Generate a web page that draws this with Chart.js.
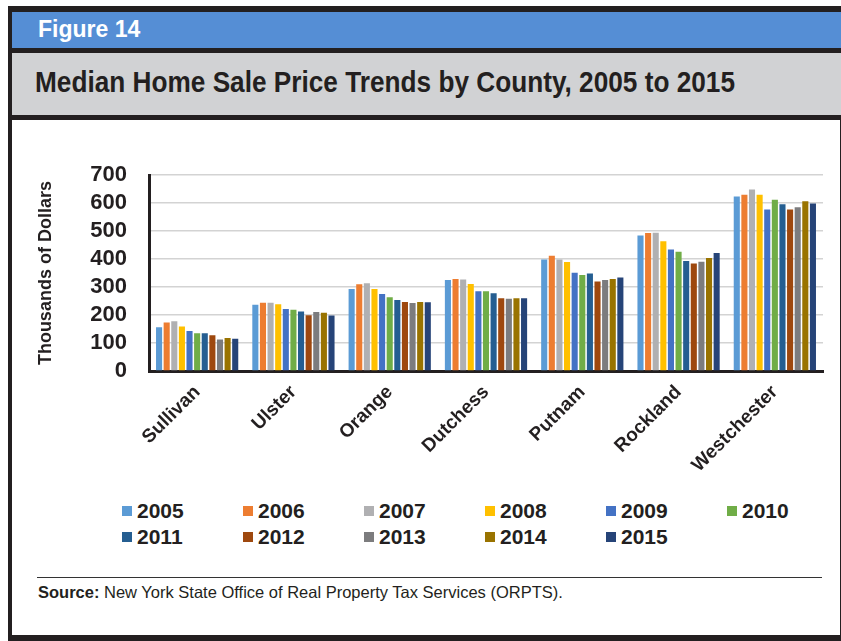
<!DOCTYPE html>
<html>
<head>
<meta charset="utf-8">
<script src="https://cdn.jsdelivr.net/npm/chart.js@4.4.1/dist/chart.umd.min.js"></script>
<style>
  body { margin:0; width:841px; height:641px; overflow:hidden; background:#fff; font-family:"Liberation Sans", Arial, sans-serif; }
  .frame { position:absolute; left:8px; top:6px; width:833px; height:635px; background:#231f20; }
  .band-blue { position:absolute; left:12px; top:12px; width:829px; height:36px; background:#558ed5; }
  .band-gray { position:absolute; left:12px; top:53px; width:829px; height:62px; background:#d1d2d4; }
  .panel { position:absolute; left:12px; top:120px; width:828px; height:515px; background:#fff; }
  .fig { position:absolute; left:38px; top:16px; color:#fff; font-weight:bold; font-size:23px; font-family:"Liberation Sans Narrow", "Liberation Sans", Arial, sans-serif; }
  .title { position:absolute; left:35px; top:65px; color:#231f20; font-weight:bold; font-size:30px; font-family:"Liberation Sans Narrow", "Liberation Sans", Arial, sans-serif; white-space:nowrap; }
  #wrap { position:absolute; left:20px; top:140px; width:815px; height:350px; }
  #legend { position:absolute; left:0; top:0; }
  .item { position:absolute; display:flex; align-items:center; font-weight:bold; font-size:21px; color:#231f20; }
  .item span.sw { width:10px; height:10px; margin-right:5px; display:inline-block; }
  .rule { position:absolute; left:37px; top:577px; width:785px; height:0; border-top:1.5px solid #333; }
  .src { position:absolute; left:38px; top:583px; font-size:16.5px; color:#231f20; }
</style>
</head>
<body>
<div class="frame"></div>
<div class="band-blue"></div>
<div class="band-gray"></div>
<div class="panel"></div>
<div class="fig">Figure 14</div>
<div class="title" id="title">Median Home Sale Price Trends by County, 2005 to 2015</div>
<div id="wrap"><canvas id="chart"></canvas></div>
<div id="legend"></div>
<div class="rule"></div>
<div class="src"><b>Source:</b> New York State Office of Real Property Tax Services (ORPTS).</div>
<script>
// data (thousands of dollars)
const counties = ['Sullivan', 'Ulster', 'Orange', 'Dutchess', 'Putnam', 'Rockland', 'Westchester'];
const years = ['2005','2006','2007','2008','2009','2010','2011','2012','2013','2014','2015'];
const colors = ['#5b9bd5','#ed7d31','#b0b0b2','#ffc000','#4472c4','#70ad47','#255e91','#9e480e','#7c7c7e','#997300','#264478'];

const sullivan    = [156, 173, 178, 159, 143, 135, 135, 128, 113, 118, 115];
const ulster      = [237, 244, 244, 239, 222, 219, 213, 199, 211, 208, 198];
const orange      = [293, 310, 314, 293, 275, 264, 254, 247, 243, 247, 246];
const dutchess    = [325, 329, 327, 311, 285, 285, 278, 260, 258, 260, 260];
const putnam      = [399, 412, 399, 390, 351, 343, 349, 320, 325, 329, 334];
const rockland    = [484, 493, 494, 464, 434, 426, 393, 384, 391, 404, 422];
const westchester = [624, 630, 649, 630, 577, 612, 596, 577, 585, 607, 599];

const yTicks = [0, 100, 200, 300, 400, 500, 600, 700];

const byCounty = [sullivan, ulster, orange, dutchess, putnam, rockland, westchester];

const datasets = years.map((y, i) => ({
  label: y,
  data: byCounty.map(c => c[i]),
  backgroundColor: colors[i],
  borderWidth: 0,
  barPercentage: 0.8,
  categoryPercentage: 0.87
}));

// fit title into width like the condensed original
const t = document.getElementById('title');
const w = t.getBoundingClientRect().width;
if (w > 700) { t.style.transformOrigin = 'left center'; t.style.transform = 'scaleX(' + (700 / w) + ')'; }

const chart = new Chart(document.getElementById('chart'), {
  type: 'bar',
  data: { labels: counties, datasets },
  options: {
    responsive: true,
    maintainAspectRatio: false,
    animation: false,
    devicePixelRatio: 1,
    layout: { padding: { top: 30, right: 12, left: 0, bottom: 0 } },
    plugins: { legend: { display: false }, tooltip: { enabled: false } },
    scales: {
      x: {
        grid: { display: false },
        border: { color: '#231f20', width: 3 },
        ticks: {
          color: '#231f20', maxRotation: 45, minRotation: 45, padding: 2, autoSkip: false,
          font: { family: 'Liberation Sans', size: 19, weight: 'bold' }
        },
        afterFit: s => { s.height = 119; }
      },
      y: {
        min: 0, max: 700,
        afterBuildTicks: s => { s.ticks = yTicks.map(v => ({ value: v })); },
        grid: { color: '#d3d3d3', lineWidth: 1.5, drawTicks: false },
        border: { color: '#231f20', width: 3 },
        ticks: {
          color: '#231f20', padding: 22, autoSkip: false,
          font: { family: 'Liberation Sans', size: 22, weight: 'bold' }
        },
        title: {
          display: true, text: 'Thousands of Dollars', color: '#231f20',
          padding: { top: 15, bottom: 0 },
          font: { family: 'Liberation Sans', size: 18, weight: 'bold' }
        },
        afterFit: s => { s.width = 129; }
      }
    }
  }
});

// legend grid built from the chart datasets
const legend = document.getElementById('legend');
chart.data.datasets.forEach((ds, i) => {
  const col = i % 6, row = Math.floor(i / 6);
  const el = document.createElement('div');
  el.className = 'item';
  el.style.left = (122 + col * 121) + 'px';
  el.style.top = (499 + row * 26) + 'px';
  el.innerHTML = '<span class="sw" style="background:' + ds.backgroundColor + '"></span>' + ds.label;
  legend.appendChild(el);
});
</script>
</body>
</html>
